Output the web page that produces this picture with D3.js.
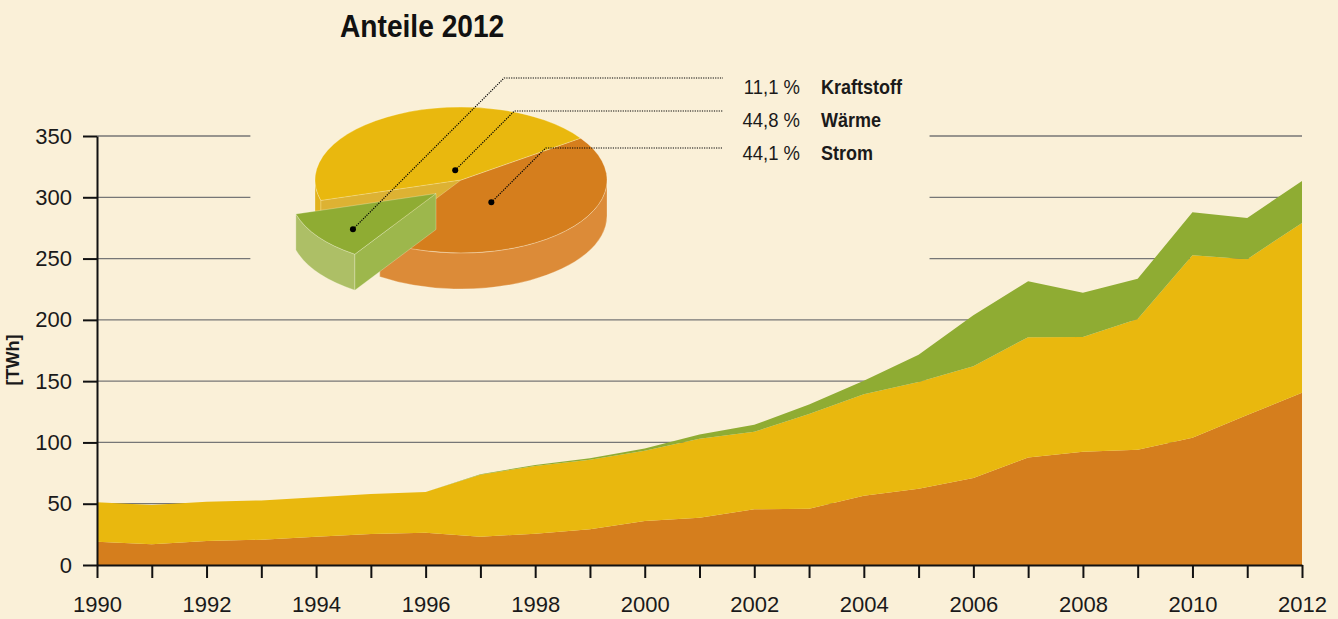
<!DOCTYPE html>
<html>
<head>
<meta charset="utf-8">
<script src="https://cdn.jsdelivr.net/npm/d3@7"></script>
<style>
  body { margin: 0; background: #FAF0D8; }
  svg { display: block; }
</style>
</head>
<body>
<div class="chart"></div>
<script>
// Erneuerbare Energien – Endenergie 1990-2012 in TWh
var years = d3.range(1990, 2013);
var strom = [19.0, 16.9, 19.6, 20.6, 23.1, 25.3, 26.3, 23.1, 25.5, 29.1, 35.9, 38.6,
             45.4, 45.9, 56.5, 62.2, 70.9, 87.8, 92.4, 94.0, 103.8, 122.3, 140.5];
var waerme = [32.1, 32.0, 32.0, 32.1, 32.1, 32.6, 33.2, 50.5, 55.3, 56.7, 57.3, 64.4,
              63.3, 77.2, 82.9, 87.0, 91.3, 98.1, 93.6, 106.7, 148.9, 127.2, 138.6];
var kraftstoff = [0, 0, 0, 0, 0, 0, 0, 0.4, 0.8, 1.2, 1.9, 3.5,
                  5.7, 7.9, 10.9, 22.3, 41.6, 45.6, 36.2, 32.8, 35.1, 33.7, 34.2];
var yTicks = [0, 50, 100, 150, 200, 250, 300, 350];

// Anteile 2012 (pie)
var shareNames = ["Strom", "Kraftstoff", "Wärme"];
var shareValues = [44.1, 11.1, 44.8];
var shareLabels = ["44,1 %", "11,1 %", "44,8 %"];

var colors = { Strom: "#D57E1D", "Wärme": "#E9B80E", Kraftstoff: "#8FAC33" };
var sideColors = { Strom: "#DC8B38", "Wärme": "#E2B21C", Kraftstoff: "#ADBF66" };
var faceColors = { Strom: "#C9761C", "Wärme": "#DDB233", Kraftstoff: "#9DB74C" };

const width = 1338;
const height = 619;
const font = '"Liberation Sans", Arial, sans-serif';

const svg = d3.select('.chart')
    .append('svg')
    .attr('width', width)
    .attr('height', height);

svg.append('rect')
    .attr('width', width)
    .attr('height', height)
    .attr('fill', '#FAF0D8');

const x = d3.scaleLinear().domain([1990, 2012]).range([97, 1302]);
const y = d3.scaleLinear().domain([0, 350]).range([565, 136]);

// gridlines (upper ones are interrupted by the pie)
var grid = svg.append('g');
yTicks.filter(v => v > 0).forEach(function (v) {
    var segs = v >= 250 ? [[1990, 1992.8], [2005.2, 2012]] : [[1990, 2012]];
    segs.forEach(function (s) {
        grid.append('line')
            .attr('x1', x(s[0])).attr('x2', x(s[1]))
            .attr('y1', y(v)).attr('y2', y(v))
            .attr('stroke', '#767676')
            .attr('stroke-width', 1.3);
    });
});

// stacked areas
var rows = years.map(function (yr, i) {
    return { year: yr, Strom: strom[i], "Wärme": waerme[i], Kraftstoff: kraftstoff[i] };
});
var series = d3.stack().keys(["Strom", "Wärme", "Kraftstoff"])(rows);
var area = d3.area()
    .x(d => x(d.data.year))
    .y0(d => y(d[0]))
    .y1(d => y(d[1]));

svg.append('g')
    .selectAll('path')
    .data(series)
    .enter()
    .append('path')
        .attr('d', area)
        .attr('fill', d => colors[d.key]);

// axes
var yAxis = svg.append('g')
    .attr('transform', 'translate(' + x(1990) + ',0)')
    .call(d3.axisLeft(y).tickValues(yTicks).tickSize(14).tickSizeOuter(0).tickPadding(11));
var xAxis = svg.append('g')
    .attr('transform', 'translate(0,' + y(0) + ')')
    .call(d3.axisBottom(x).tickValues(years).tickSize(13).tickSizeOuter(0).tickPadding(18)
        .tickFormat(d => d % 2 === 0 ? d : ""));
[yAxis, xAxis].forEach(function (ax) {
    ax.selectAll('path, line').attr('stroke', '#111').attr('stroke-width', 2);
    ax.selectAll('text')
        .attr('fill', '#1a1a1a')
        .attr('font-family', font)
        .attr('font-size', '22px');
});

svg.append('text')
    .attr('transform', 'translate(19,360) rotate(-90) scale(0.95,1)')
    .attr('text-anchor', 'middle')
    .attr('font-family', font)
    .attr('font-weight', 'bold')
    .attr('font-size', '19px')
    .attr('fill', '#1a1a1a')
    .text('[TWh]');

// title
svg.append('text')
    .attr('transform', 'translate(340,37) scale(0.88,1)')
    .attr('font-family', font)
    .attr('font-weight', 'bold')
    .attr('font-size', '32px')
    .attr('fill', '#111')
    .text('Anteile 2012');

// 3D pie
const cx = 461, cy = 180, rx = 146, ry = 73, depth = 36;
const start = 55 * Math.PI / 180;
var slices = d3.pie().sort(null).startAngle(start).endAngle(start + 2 * Math.PI)(shareValues);
slices.forEach(function (s, i) {
    s.name = shareNames[i];
    s.label = shareLabels[i];
    s.t0 = s.startAngle - Math.PI / 2;   // screen angles
    s.t1 = s.endAngle - Math.PI / 2;
    s.dx = s.name === "Kraftstoff" ? -25 : 0;
    s.dy = s.name === "Kraftstoff" ? 13.5 : 0;
});

function pt(s, t, f, down) {
    return [cx + s.dx + (f == null ? 1 : f) * rx * Math.cos(t),
            cy + s.dy + (f == null ? 1 : f) * ry * Math.sin(t) + (down || 0)];
}
function topPath(s) {
    var a = pt(s, s.t0), b = pt(s, s.t1);
    var large = (s.t1 - s.t0) > Math.PI ? 1 : 0;
    return 'M' + (cx + s.dx) + ',' + (cy + s.dy) + 'L' + a + 'A' + rx + ',' + ry + ' 0 ' + large + ' 1 ' + b + 'Z';
}
function sidePath(s) {
    var p = '';
    [[0, Math.PI], [2 * Math.PI, 3 * Math.PI], [-2 * Math.PI, -Math.PI]].forEach(function (r) {
        var a0 = Math.max(s.t0, r[0]), a1 = Math.min(s.t1, r[1]);
        if (a1 <= a0) return;
        var p0 = pt(s, a0), p1 = pt(s, a1), q1 = pt(s, a1, 1, depth), q0 = pt(s, a0, 1, depth);
        p += 'M' + p0 + 'A' + rx + ',' + ry + ' 0 0 1 ' + p1 + 'L' + q1 +
             'A' + rx + ',' + ry + ' 0 0 0 ' + q0 + 'Z';
    });
    return p;
}
function facePath(s, t) {
    var c = [cx + s.dx, cy + s.dy], e = pt(s, t);
    return 'M' + c + 'L' + e + 'L' + [e[0], e[1] + depth] + 'L' + [c[0], c[1] + depth] + 'Z';
}

var pie = svg.append('g');
var main = slices.filter(s => s.name !== "Kraftstoff");
var cut = slices.filter(s => s.name === "Kraftstoff")[0];
var edge = 'rgba(255,255,240,0.45)';

// cut faces revealed by the exploded slice
main.forEach(function (s) {
    var t = s.name === "Wärme" ? s.t0 : s.t1;
    pie.append('path').attr('d', facePath(s, t)).attr('fill', faceColors[s.name]);
});
main.forEach(function (s) {
    pie.append('path').attr('d', sidePath(s)).attr('fill', sideColors[s.name])
        .attr('stroke', edge).attr('stroke-width', 0.6);
});
main.forEach(function (s) {
    pie.append('path').attr('d', topPath(s)).attr('fill', colors[s.name])
        .attr('stroke', edge).attr('stroke-width', 0.6);
});
pie.append('path').attr('d', sidePath(cut)).attr('fill', sideColors.Kraftstoff)
    .attr('stroke', edge).attr('stroke-width', 0.6);
pie.append('path').attr('d', facePath(cut, cut.t0)).attr('fill', faceColors.Kraftstoff)
    .attr('stroke', edge).attr('stroke-width', 0.6);
pie.append('path').attr('d', topPath(cut)).attr('fill', colors.Kraftstoff)
    .attr('stroke', edge).attr('stroke-width', 0.6);

// leader lines and labels
var labelY = { Kraftstoff: 78, "Wärme": 111, Strom: 148 };
var textY = { Kraftstoff: 94, "Wärme": 127, Strom: 160 };
var dotPos = { Kraftstoff: [-0.077, 0.75], "Wärme": [0.16, 0.14], Strom: [0.2, 0.37] };
slices.forEach(function (s) {
    var mid = (s.t0 + s.t1) / 2 + dotPos[s.name][0];
    var d = pt(s, mid, dotPos[s.name][1]);
    var ly = labelY[s.name];
    var elbow = d[0] + (d[1] - ly);
    pie.append('polyline')
        .attr('points', [d, [elbow, ly], [723, ly]].join(' '))
        .attr('fill', 'none')
        .attr('stroke', '#000')
        .attr('stroke-width', 1.2)
        .attr('stroke-dasharray', '1.2,1.2');
    pie.append('circle')
        .attr('cx', d[0]).attr('cy', d[1]).attr('r', 3)
        .attr('fill', '#000');
    pie.append('text')
        .attr('transform', 'translate(800,' + textY[s.name] + ') scale(0.88,1)')
        .attr('text-anchor', 'end')
        .attr('font-family', font)
        .attr('font-size', '21px')
        .attr('fill', '#1a1a1a')
        .text(s.label);
    pie.append('text')
        .attr('transform', 'translate(821,' + textY[s.name] + ') scale(0.9,1)')
        .attr('font-family', font)
        .attr('font-weight', 'bold')
        .attr('font-size', '20px')
        .attr('fill', '#1a1a1a')
        .text(s.name);
});
</script>
</body>
</html>
